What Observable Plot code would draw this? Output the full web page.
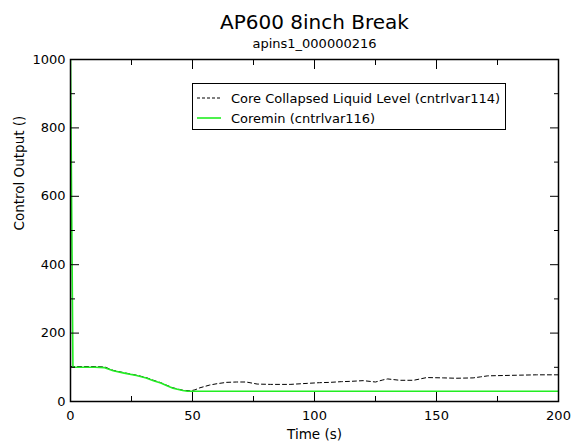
<!DOCTYPE html>
<html>
<head>
<meta charset="utf-8">
<script src="https://cdn.jsdelivr.net/npm/d3@7"></script>
<script src="https://cdn.jsdelivr.net/npm/@observablehq/plot@0.6"></script>
<style>
  body { margin: 0; background: #fff; }
  #chart { position: relative; width: 576px; height: 447px; font-family: "DejaVu Sans", Verdana, sans-serif; }
  #legend { position: absolute; left: 192px; top: 83px; width: 314px; height: 47px; border: 1px solid #000; background: #fff; box-sizing: border-box; font-size: 13px; }
  #legend .row { position: absolute; left: 0; height: 16px; display: flex; align-items: center; white-space: nowrap; }
  #legend svg { margin-left: 4px; margin-right: 10px; }
</style>
</head>
<body>
<div id="chart"></div>
<script>
const title = "AP600 8inch Break";
const subtitle = "apins1_000000216";
const xLabel = "Time (s)";
const yLabel = "Control Output ()";
const seriesNames = ["Core Collapsed Liquid Level (cntrlvar114)", "Coremin (cntrlvar116)"];
const xTicks = [0, 50, 100, 150, 200];
const xMinor = [25, 75, 125, 175];
const yTicks = [0, 200, 400, 600, 800, 1000];
const yMinor = [100, 300, 500, 700, 900];

const levelTime = [0, 1, 5, 10, 14, 17.5, 22, 27, 31, 34, 37, 39.3, 42, 46, 49, 51, 53, 57, 60, 64, 68, 72, 76.5, 82, 90, 97, 102, 106.5, 111, 115, 120, 125, 128, 130, 135, 140.6, 146, 153, 158, 165, 168, 171, 177.5, 184, 191, 200];
const levelValue = [102, 102, 102, 102, 101, 91, 84, 77, 70, 62, 55, 48, 40, 33, 31, 34, 40, 48, 52, 56, 57, 57, 51, 50, 50, 53, 55, 56, 58, 59, 61, 57, 63, 66, 62, 62, 70, 69, 68, 69, 72, 75, 76, 77, 78, 78];

const coreminTime = [0, 1, 5, 10, 14, 17.5, 22, 27, 31, 34, 37, 39.3, 42, 46, 48, 200];
const coreminValue = [1000, 100, 100, 100, 99, 90, 83, 76, 69, 61, 54, 47, 39, 32, 30, 30];

const level = levelTime.map((t, i) => ({t, v: levelValue[i]}));
const coremin = coreminTime.map((t, i) => ({t, v: coreminValue[i]}));

const font = "DejaVu Sans, Verdana, sans-serif";
const blank = () => "";
const plot = Plot.plot({
  width: 576,
  height: 447,
  marginTop: 59,
  marginBottom: 46,
  marginLeft: 70,
  marginRight: 18,
  style: {fontFamily: font, fontSize: "13px", color: "#000", background: "#fff"},
  x: {domain: [0, 200]},
  y: {domain: [0, 1000]},
  marks: [
    Plot.line(level, {x: "t", y: "v", stroke: "#000", strokeWidth: 1, strokeDasharray: "4,3", clip: true}),
    Plot.line(coremin, {x: "t", y: "v", stroke: "#22ee22", strokeWidth: 1.6, clip: true}),
    Plot.axisX({ticks: xTicks, tickSize: 0, tickPadding: 9, fontSize: 13, tickFormat: d3.format("d"), label: null}),
    Plot.axisY({ticks: yTicks, tickSize: 0, tickPadding: 5, fontSize: 13, tickFormat: d3.format("d"), label: null}),
    Plot.axisX({anchor: "bottom", ticks: xTicks, tickSize: -9, tickFormat: blank, label: null}),
    Plot.axisX({anchor: "bottom", ticks: xMinor, tickSize: -5, tickFormat: blank, label: null}),
    Plot.axisX({anchor: "top", ticks: xTicks, tickSize: -9, tickFormat: blank, label: null}),
    Plot.axisX({anchor: "top", ticks: xMinor, tickSize: -5, tickFormat: blank, label: null}),
    Plot.axisY({anchor: "left", ticks: yTicks, tickSize: -9, tickFormat: blank, label: null}),
    Plot.axisY({anchor: "left", ticks: yMinor, tickSize: -5, tickFormat: blank, label: null}),
    Plot.axisY({anchor: "right", ticks: yTicks, tickSize: -9, tickFormat: blank, label: null}),
    Plot.axisY({anchor: "right", ticks: yMinor, tickSize: -5, tickFormat: blank, label: null}),
    Plot.frame({stroke: "#000", strokeWidth: 1.5}),
    Plot.text([title], {frameAnchor: "top", dy: -45, fontSize: 20, text: d => d}),
    Plot.text([subtitle], {frameAnchor: "top", dy: -21, fontSize: 13, text: d => d}),
    Plot.text([xLabel], {frameAnchor: "bottom", dy: 37, fontSize: 13.5, text: d => d}),
    Plot.text([yLabel], {frameAnchor: "left", dx: -51, rotate: -90, fontSize: 13.5, text: d => d})
  ]
});
const chart = document.getElementById("chart");
chart.appendChild(plot);

const legend = document.createElement("div");
legend.id = "legend";
const styles = [{stroke: "#000", dash: "3,2", w: 1}, {stroke: "#22ee22", dash: "", w: 1.6}];
seriesNames.forEach((name, i) => {
  const row = document.createElement("div");
  row.className = "row";
  row.style.top = (6 + i * 20) + "px";
  row.innerHTML = `<svg width="24" height="4"><line x1="0" y1="2" x2="24" y2="2" stroke="${styles[i].stroke}" stroke-width="${styles[i].w}" stroke-dasharray="${styles[i].dash}"/></svg><span>${name}</span>`;
  legend.appendChild(row);
});
chart.appendChild(legend);
</script>
</body>
</html>
